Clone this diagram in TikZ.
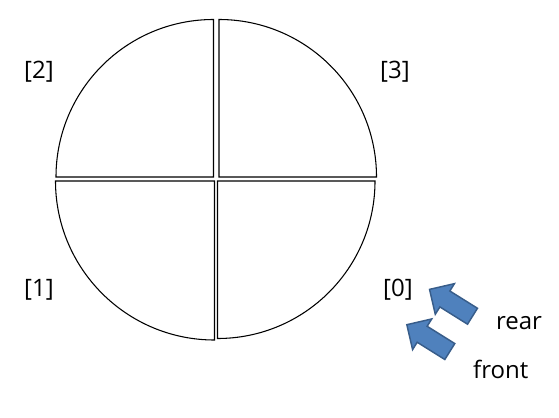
\documentclass[tikz,border=0pt]{standalone}
\usepackage{fontspec}
\setmainfont{Open Sans}
\usetikzlibrary{shapes.arrows}
\definecolor{arrowblue}{HTML}{4F81BD}
\definecolor{arrowedge}{HTML}{385D8A}
\begin{document}
\begin{tikzpicture}[x=0.75pt,y=-0.75pt]
\tikzstyle{every node}=[inner sep=0pt, font=\fontsize{18}{22}\selectfont]
\tikzstyle{slot}=[draw=black, line width=0.8pt, fill=white]
\tikzstyle{pointer}=[single arrow, draw=arrowedge, fill=arrowblue, line width=1.1pt,
  inner xsep=0pt, inner ysep=6.5pt, minimum height=38pt, single arrow head extend=6.5pt,
  single arrow head indent=0pt, rotate=148]
\useasboundingbox (0,0) rectangle (559,417);
% the four slots of the ring
\draw[slot] (213.5,177) -- ++(-157.5,0) arc (180:270:157.5) -- cycle;
\draw[slot] (219,177) -- ++(0,-157.5) arc (270:360:157.5) -- cycle;
\draw[slot] (217.5,181) -- ++(157.5,0) arc (0:90:157.5) -- cycle;
\draw[slot] (214.5,181) -- ++(0,159) arc (90:180:159) -- cycle;
% indices
\draw (39,79) node (s2) [anchor=base] {[2]};
\draw (395,79) node (s3) [anchor=base] {[3]};
\draw (39,296) node (s1) [anchor=base] {[1]};
\draw (398,296) node (s0) [anchor=base] {[0]};
% pointers
\draw (455,305.3) node (rearptr) [pointer] {};
\draw (432.3,340.6) node (frontptr) [pointer] {};
\draw (519,329.3) node (rear) [anchor=base] {rear};
\draw (500.7,378.3) node (front) [anchor=base] {front};
\end{tikzpicture}
\end{document}
